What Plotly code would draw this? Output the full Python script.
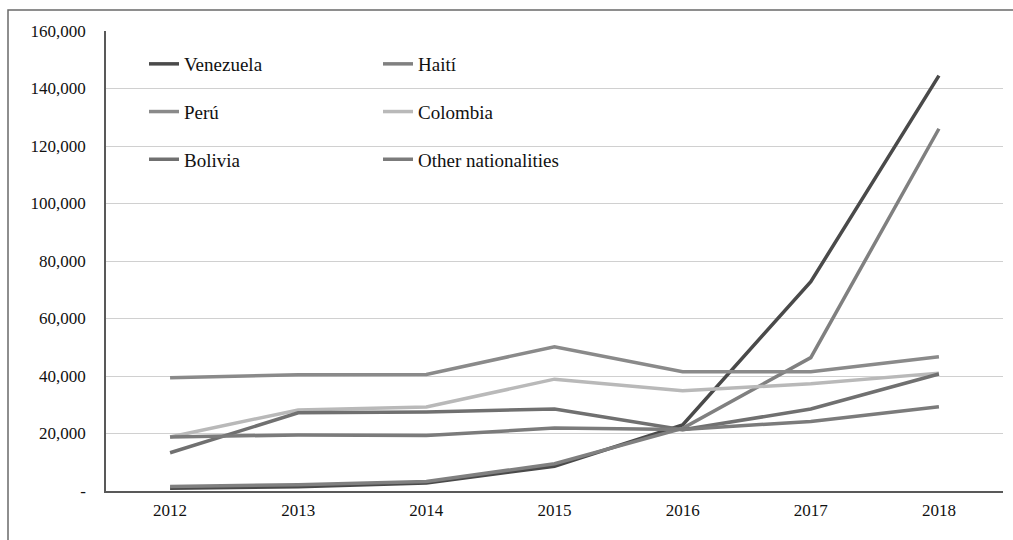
import plotly.graph_objects as go

years = ["2012", "2013", "2014", "2015", "2016", "2017", "2018"]

venezuela = [1000, 1500, 2800, 8600, 23000, 72800, 144500]
haiti = [1600, 2200, 3300, 9500, 21800, 46400, 126000]
peru = [39400, 40400, 40500, 50200, 41500, 41500, 46700]
colombia = [18800, 28200, 29200, 38900, 34900, 37300, 41000]
bolivia = [13300, 27200, 27500, 28500, 21300, 28500, 40700]
others = [18800, 19500, 19300, 21900, 21400, 24200, 29300]

tick_vals = [0, 20000, 40000, 60000, 80000, 100000, 120000, 140000, 160000]
tick_text = ["-", "20,000", "40,000", "60,000", "80,000", "100,000", "120,000", "140,000", "160,000"]

series = [
    ("Venezuela", venezuela, "#4a4a4a", "legend"),
    ("Haití", haiti, "#808080", "legend2"),
    ("Perú", peru, "#8a8a8a", "legend"),
    ("Colombia", colombia, "#b9b9b9", "legend2"),
    ("Bolivia", bolivia, "#707070", "legend"),
    ("Other nationalities", others, "#7b7b7b", "legend2"),
]

fig = go.Figure()
for name, vals, color, leg in series:
    fig.add_trace(go.Scatter(
        x=years, y=vals, name=name, mode="lines",
        line=dict(color=color, width=3.5),
        legend=leg, legendgroup=name,
    ))

W, H = 1013, 540
L, R, T, B = 106, 10, 31, 49
pw, ph = W - L - R, H - T - B

def px_x(p):
    return (p - L) / pw

def px_y(p):
    return (H - B - p) / ph

FONT = "Liberation Serif, Times New Roman, serif"

legend_common = dict(
    orientation="v", xanchor="left", yanchor="top",
    font=dict(family=FONT, size=19, color="#111"),
    bgcolor="rgba(0,0,0,0)", borderwidth=0,
    traceorder="grouped", tracegroupgap=20,
)

fig.update_layout(
    width=W, height=H,
    margin=dict(l=L, r=R, t=T, b=B),
    paper_bgcolor="white", plot_bgcolor="white",
    font=dict(family=FONT, size=17, color="#111"),
    showlegend=True,
    legend=dict(x=px_x(144), y=px_y(45), **legend_common),
    legend2=dict(x=px_x(378), y=px_y(45), **legend_common),
    xaxis=dict(
        type="category", showgrid=False, zeroline=False,
        showline=True, linecolor="#595959", linewidth=1.5,
        ticks="", tickfont=dict(size=17), ticklabelstandoff=3,
        range=[-0.5, 6.5],
    ),
    yaxis=dict(
        range=[0, 160000], tickvals=tick_vals, ticktext=tick_text,
        showgrid=True, gridcolor="#d0d0d0", gridwidth=1.2,
        zeroline=False, showline=True, linecolor="#595959", linewidth=1.5,
        ticks="", tickfont=dict(size=17), ticklabelstandoff=15,
    ),
    shapes=[dict(
        type="rect", xref="paper", yref="paper",
        x0=px_x(8), x1=px_x(1020), y0=px_y(550), y1=px_y(10),
        line=dict(color="#6a6a6a", width=1.5), fillcolor="rgba(0,0,0,0)",
        layer="above",
    )],
)

fig.write_html("out.html")
